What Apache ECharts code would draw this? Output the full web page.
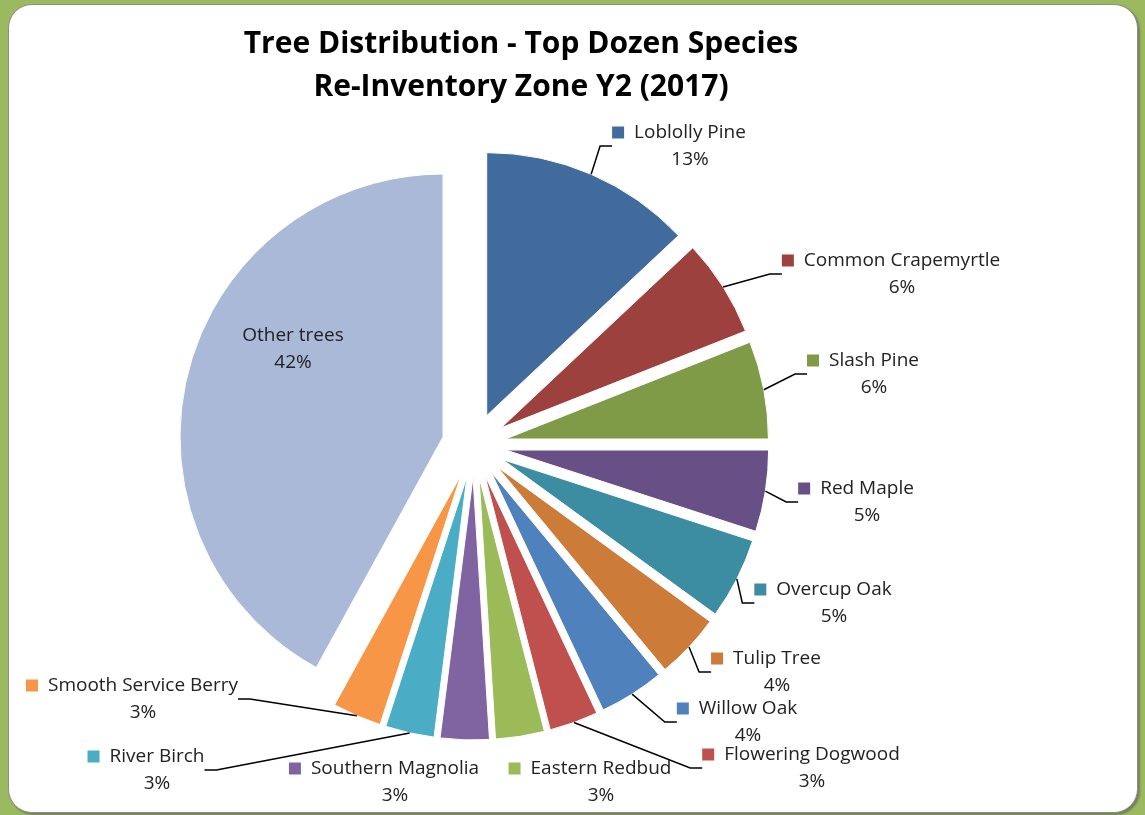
<!DOCTYPE html>
<html>
<head>
<meta charset="utf-8">
<title>Tree Distribution - Top Dozen Species</title>
<script src="https://cdn.jsdelivr.net/npm/echarts@6/dist/echarts.min.js"></script>
<style>
  html, body { margin: 0; padding: 0; width: 1145px; height: 815px; overflow: hidden; background: #9bb95f; }
  #panel {
    position: absolute; left: 8px; top: 4px; width: 1128px; height: 807px;
    background: #ffffff; border: 1px solid #8c8c8c; border-radius: 24px;
    box-shadow: 2px 2px 2px rgba(90, 90, 90, 0.6);
  }
  #chart { position: absolute; left: 0; top: 0; width: 1145px; height: 815px; }
</style>
</head>
<body>
<div id="panel"></div>
<div id="chart"></div>
<script>
// Species, clockwise from 12 o'clock
const species = [
  'Loblolly Pine', 'Common Crapemyrtle', 'Slash Pine', 'Red Maple', 'Overcup Oak',
  'Tulip Tree', 'Willow Oak', 'Flowering Dogwood', 'Eastern Redbud',
  'Southern Magnolia', 'River Birch', 'Smooth Service Berry', 'Other trees'
];
// Share of inventoried trees, percent
const shares = [13, 6, 6, 5, 5, 4, 4, 3, 3, 3, 3, 3, 42];

const sliceColors = [
  '#416a9d', '#9d413e', '#7f9b48', '#684f86', '#3c8ca2', '#cc7b38',
  '#4f81bd', '#c0504d', '#9bbb59', '#8064a2', '#4bacc6', '#f79646', '#aab9d7'
];

// Where each data label sits (centre of the two-line block) and whether it has a leader line
const labelSpots = [
  [679, 146, true], [891, 274, true], [863, 374, true], [856, 502, true],
  [823, 603, true], [766, 672, true], [737, 722, true], [801, 768, true],
  [590, 782, false], [384, 782, false], [146, 770, true], [132, 699, true],
  [293, 349, false]
];

const FONT = '"Open Sans", "Noto Sans", sans-serif';
const TEXT_COLOR = '#222222';
const PIE_CENTER = [474, 445];
const PIE_RADIUS = 263;
const EXPLODE = 32;

const chart = echarts.init(document.getElementById('chart'), null, { renderer: 'canvas' });

// Exploded slices
const sliceData = species.map((name, i) => ({
  name,
  value: shares[i],
  selected: true,
  itemStyle: { color: sliceColors[i] }
}));

// Same values again, carrying the data labels and leader lines
const labelData = species.map((name, i) => ({
  name,
  value: shares[i],
  labelLine: { show: labelSpots[i][2] },
  label: name === 'Other trees'
    ? { formatter: '{t|{b}}\n{t|{d}%}' }
    : {
        formatter: '{sq|}{sp|}{t|{b}}\n{gap|}{t|{d}%}',
        rich: {
          sq: { width: 12, height: 12, backgroundColor: sliceColors[i], verticalAlign: 'middle' },
          sp: { width: 10 },
          gap: { width: 22 },
          t: { fontFamily: FONT, fontSize: 19, color: TEXT_COLOR, lineHeight: 27 }
        }
      }
}));

chart.setOption({
  animation: false,
  title: {
    text: 'Tree Distribution - Top Dozen Species\nRe-Inventory Zone Y2 (2017)',
    left: 516, top: 18, textAlign: 'center',
    textStyle: {
      fontFamily: FONT, fontWeight: 'bold',
      fontSize: 30, lineHeight: 43, color: '#000000'
    }
  },
  series: [
    {
      type: 'pie',
      center: PIE_CENTER,
      radius: PIE_RADIUS,
      startAngle: 90,
      clockwise: true,
      selectedMode: 'multiple',
      selectedOffset: EXPLODE,
      itemStyle: { borderColor: '#ffffff', borderWidth: 1 },
      emphasis: { disabled: true },
      label: { show: false },
      labelLine: { show: false },
      data: sliceData,
      z: 2
    },
    {
      type: 'pie',
      center: PIE_CENTER,
      radius: PIE_RADIUS + EXPLODE,
      startAngle: 90,
      clockwise: true,
      silent: true,
      percentPrecision: 0,
      itemStyle: { color: 'rgba(0,0,0,0)' },
      emphasis: { disabled: true },
      label: {
        show: true,
        position: 'outside',
        fontFamily: FONT,
        fontSize: 19,
        color: TEXT_COLOR,
        lineHeight: 27,
        align: 'center',
        rich: {
          t: { fontFamily: FONT, fontSize: 19, color: TEXT_COLOR, lineHeight: 27 }
        }
      },
      labelLine: {
        show: true,
        length: 12,
        length2: 12,
        lineStyle: { color: '#000000', width: 1.5 }
      },
      labelLayout: function (params) {
        const spot = labelSpots[params.dataIndex];
        return { x: spot[0], y: spot[1], align: 'center', verticalAlign: 'middle' };
      },
      data: labelData,
      z: 3
    }
  ]
});
</script>
</body>
</html>
